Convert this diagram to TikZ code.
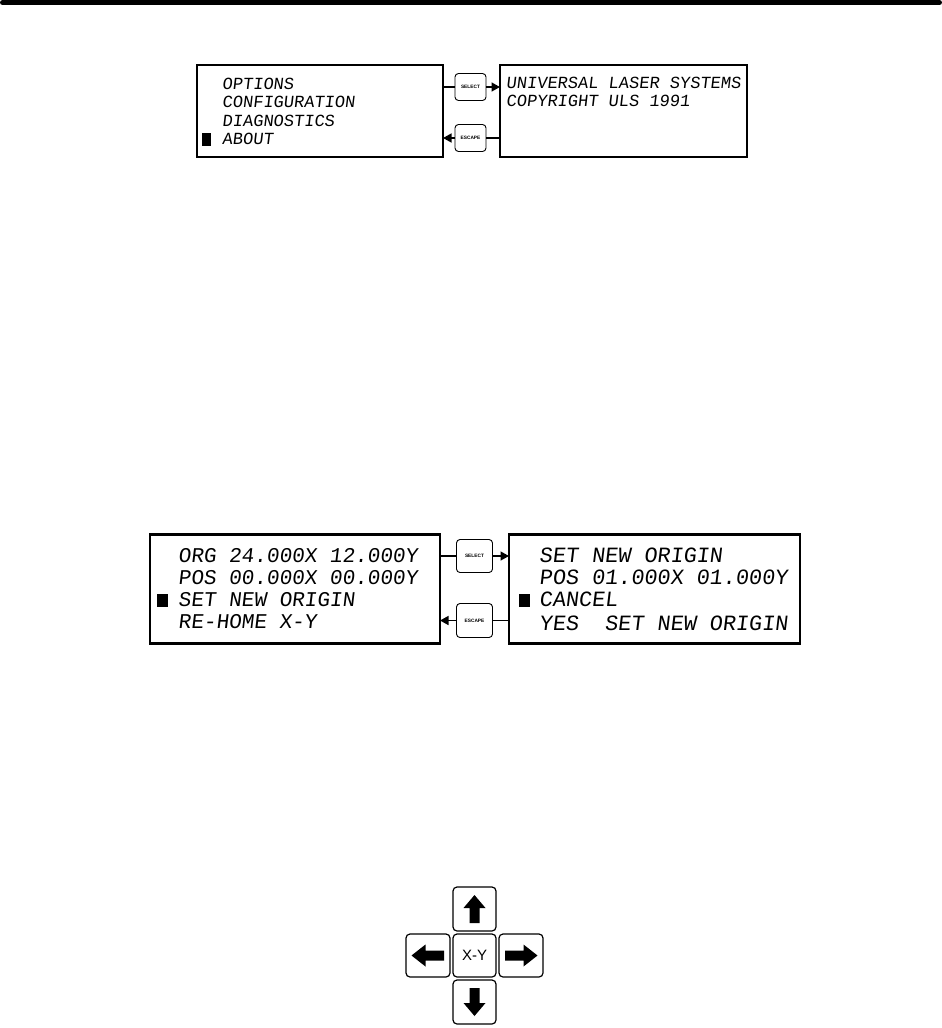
\documentclass[tikz,border=0pt]{standalone}
\usepackage{fontspec}
\newfontfamily\lcdfont[FakeSlant=0.12]{Liberation Mono}
\newfontfamily\btnfont{Liberation Sans}
\usetikzlibrary{arrows.meta}
\tikzset{
  screen/.style={draw, line width=2.8pt, inner sep=0pt, outer sep=0pt},
  lcdsmall/.style={anchor=base west, inner sep=0pt, font=\lcdfont\fontsize{17}{17}\selectfont},
  lcdbig/.style={anchor=base west, inner sep=0pt, font=\lcdfont\fontsize{21}{21}\selectfont},
  lcdbigr/.style={anchor=base west, inner sep=0pt, font=\lcdfont\fontsize{21.8}{22}\selectfont},
  cursor/.style={fill=black, inner sep=0pt, minimum width=10pt, minimum height=13pt},
  btn/.style={draw, line width=0.9pt, rounded corners=3.5pt, inner sep=0pt, outer sep=0pt,
    font=\btnfont\bfseries\fontsize{4.8}{5}\selectfont},
  conn/.style={line width=1.4pt},
  arr/.style={conn, -{Triangle[length=8.5pt,width=9pt]}},
  key/.style={draw, line width=1.2pt, rounded corners=4pt, inner sep=0pt, outer sep=0pt,
    minimum width=43pt, minimum height=43pt},
}
\begin{document}
\begin{tikzpicture}[x=1pt,y=-1pt]
\useasboundingbox (0,0) rectangle (942,1028);
% top rule
\draw[line width=5pt, line cap=round] (2.5,2.5) -- (939.5,2.5);

% ---------- top pair of screens ----------
\node[screen, minimum width=246pt, minimum height=92pt] (menu1) at (320,111) {};
\node[screen, minimum width=247pt, minimum height=92pt] (about1) at (623.5,111) {};
\node[lcdsmall] (m1a) at (222,89.5) {OPTIONS};
\node[lcdsmall] (m1b) at (222,107.5) {CONFIGURATION};
\node[lcdsmall] (m1c) at (222,126) {DIAGNOSTICS};
\node[lcdsmall] (m1d) at (222,144.5) {ABOUT};
\node[cursor, minimum width=9pt] (cur1) at (206.5,139) {};
\node[lcdsmall] (a1a) at (506,88.5) {UNIVERSAL LASER SYSTEMS};
\node[lcdsmall] (a1b) at (506,106.5) {COPYRIGHT ULS 1991};

\node[btn, minimum width=31pt, minimum height=27pt] (sel1) at (470.5,87) {SELECT};
\node[btn, minimum width=31pt, minimum height=27pt] (esc1) at (470.5,138) {ESCAPE};
\draw[conn] (menu1.east |- sel1) -- (sel1.west);
\draw[arr] (sel1.east) -- (sel1 -| about1.west);
\draw[conn] (about1.west |- esc1) -- (esc1.east);
\draw[arr] (esc1.west) -- (esc1 -| menu1.east);

% ---------- middle pair of screens ----------
\node[screen, minimum width=290pt, minimum height=109pt] (menu2) at (295,589) {};
\node[screen, minimum width=291pt, minimum height=109pt] (conf2) at (654.5,589) {};
\node[lcdbig] (m2a) at (178,562.5) {ORG 24.000X 12.000Y};
\node[lcdbig] (m2b) at (178,584.5) {POS 00.000X 00.000Y};
\node[lcdbig] (m2c) at (178,606.5) {SET NEW ORIGIN};
\node[lcdbig] (m2d) at (178,628.5) {RE-HOME X-Y};
\node[cursor, minimum width=11pt] (cur2) at (162.5,600.5) {};
\node[lcdbigr] (c2a) at (539,562.5) {SET NEW ORIGIN};
\node[lcdbigr] (c2b) at (539,584.5) {POS 01.000X 01.000Y};
\node[lcdbigr] (c2c) at (539,606.5) {CANCEL};
\node[lcdbigr] (c2d) at (539,630) {YES\ \ SET NEW ORIGIN};
\node[cursor, minimum width=11pt] (cur3) at (524.5,600.5) {};

\node[btn, minimum width=36pt, minimum height=33pt] (sel2) at (474.5,556) {SELECT};
\node[btn, minimum width=36pt, minimum height=34pt] (esc2) at (474.5,620.5) {ESCAPE};
\draw[conn] (menu2.east |- sel2) -- (sel2.west);
\draw[arr] (sel2.east) -- (sel2 -| conf2.west);
\draw[conn] (conf2.west |- esc2) -- (esc2.east);
\draw[arr] (esc2.west) -- (esc2 -| menu2.east);

% ---------- keypad ----------
\node[key] (kc) at (474.5,955.5) {\btnfont\fontsize{15}{15}\selectfont X-Y};
\node[key, minimum height=44pt] (ku) at (474.5,909) {};
\node[key, minimum height=44pt] (kd) at (474.5,1002) {};
\node[key, minimum width=44pt] (kl) at (428,955.5) {};
\node[key, minimum width=44pt] (kr) at (521,955.5) {};
\begin{scope}[shift={(ku.center)}]
  \fill (0,-14) -- (11,-1) -- (5,-1) -- (5,14) -- (-5,14) -- (-5,-1) -- (-11,-1) -- cycle;
\end{scope}
\begin{scope}[shift={(kd.center)}]
  \fill (0,14) -- (11,1) -- (5,1) -- (5,-14) -- (-5,-14) -- (-5,1) -- (-11,1) -- cycle;
\end{scope}
\begin{scope}[shift={(kl.center)}]
  \fill (-16.5,0) -- (-2.5,-11) -- (-2.5,-5) -- (16,-5) -- (16,5) -- (-2.5,5) -- (-2.5,11) -- cycle;
\end{scope}
\begin{scope}[shift={(kr.center)}]
  \fill (16.5,0) -- (2.5,-11) -- (2.5,-5) -- (-16,-5) -- (-16,5) -- (2.5,5) -- (2.5,11) -- cycle;
\end{scope}
\end{tikzpicture}
\end{document}
